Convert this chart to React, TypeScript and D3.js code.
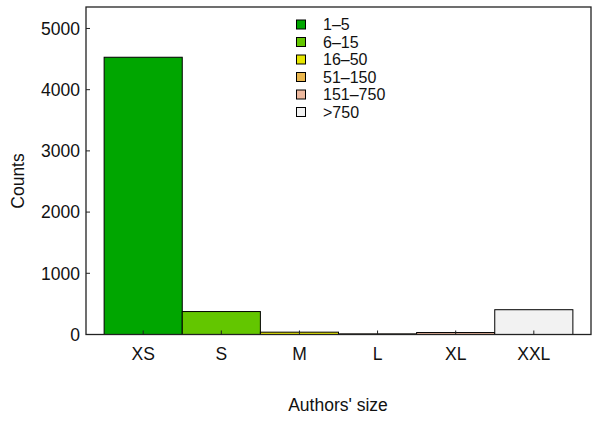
import React from "react";
import * as d3 from "d3";

const categories = ["XS", "S", "M", "L", "XL", "XXL"];
const counts = [4530, 375, 38, 10, 32, 405];
const legendLabels = ["1–5", "6–15", "16–50", "51–150", "151–750", ">750"];
const colors = ["#00A600", "#63C600", "#E6E600", "#EAB64E", "#EEB99F", "#F2F2F2"];
const yTicks = [0, 1000, 2000, 3000, 4000, 5000];

const W = 610;
const H = 422;
const left = 86;
const right = 591;
const top = 7;
const bottom = 334.5;

export default function App() {
  const x = d3.scaleLinear().domain([0.268, categories.length + 0.732]).range([left, right]);
  const y = d3.scaleLinear().domain([0, 5351]).range([bottom, top]);
  const bw = x(2) - x(1);
  const font = "'Liberation Sans', Arial, Helvetica, sans-serif";
  return (
    <svg width={W} height={H} style={{ position: "absolute", left: 0, top: 0 }} fontFamily={font}>
      <rect x={0} y={0} width={W} height={H} fill="#fff" />
      {counts.map((c, i) => (
        <rect
          key={i}
          x={x(i + 1) - bw / 2}
          y={y(c)}
          width={bw}
          height={y(0) - y(c)}
          fill={colors[i]}
          stroke="#000"
          strokeWidth={1}
        />
      ))}
      <rect x={left} y={top} width={right - left} height={bottom - top} fill="none" stroke="#222" strokeWidth={1.3} />
      {yTicks.map((t) => (
        <g key={t}>
          <line x1={left} x2={left + 4} y1={y(t)} y2={y(t)} stroke="#222" strokeWidth={1} />
          <text x={left - 6} y={y(t)} dy="0.36em" textAnchor="end" fontSize={17.5} fill="#111">
            {t}
          </text>
        </g>
      ))}
      {categories.map((c, i) => (
        <g key={c}>
          <line x1={x(i + 1)} x2={x(i + 1)} y1={bottom} y2={bottom - 4} stroke="#222" strokeWidth={1} />
          <text x={x(i + 1)} y={360} textAnchor="middle" fontSize={17.5} fill="#111">
            {c}
          </text>
        </g>
      ))}
      <text x={338} y={411} textAnchor="middle" fontSize={17.5} fill="#111">
        Authors' size
      </text>
      <text transform={`translate(24,181) rotate(-90)`} textAnchor="middle" fontSize={17.5} fill="#111">
        Counts
      </text>
      {legendLabels.map((l, i) => {
        const cy = 24.5 + i * 17.5;
        return (
          <g key={l}>
            <rect x={296.5} y={cy - 4.5} width={9} height={9} fill={colors[i]} stroke="#000" strokeWidth={1} />
            <text x={323} y={cy} dy="0.36em" fontSize={16} fill="#111">
              {l}
            </text>
          </g>
        );
      })}
    </svg>
  );
}
